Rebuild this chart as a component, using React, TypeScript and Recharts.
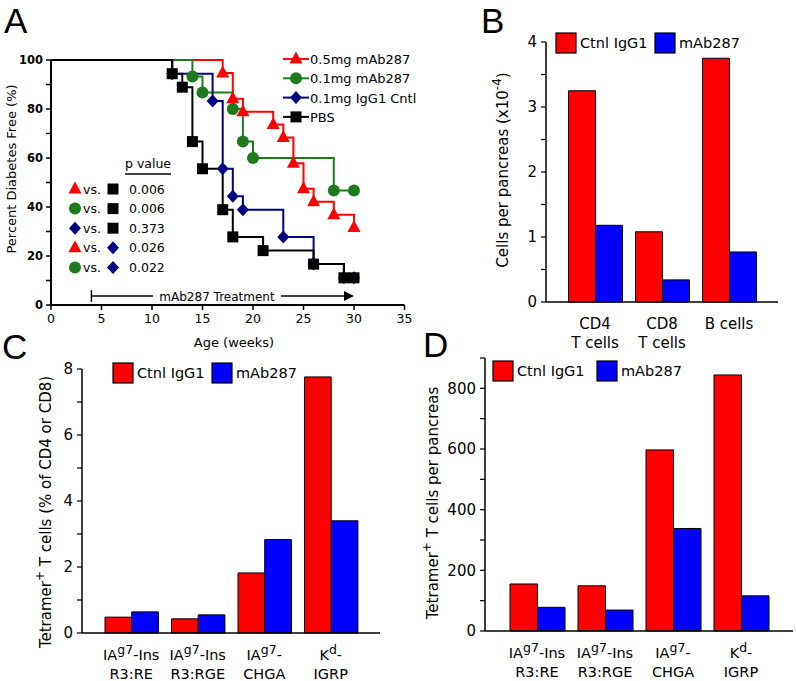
import React from 'react';
import { LineChart, Line, BarChart, Bar, XAxis, YAxis } from 'recharts';

const FONT = '"DejaVu Sans", Verdana, sans-serif';

// Panel A: percent diabetes free by age (Kaplan-Meier)
const survNames = ['0.5mg mAb287', '0.1mg mAb287', '0.1mg IgG1 Cntl', 'PBS'];
const survColors = ['#ff0000', '#1f7a1f', '#000080', '#000000'];
const survShapes = ['triangle', 'circle', 'diamond', 'square'];

const weeksHigh = [0, 17, 18, 19, 22, 23, 24, 25, 26, 28, 30];
const freeHigh = [100, 94.7, 84.2, 78.9, 73.7, 68.4, 57.9, 47.4, 42.1, 36.8, 31.6];
const weeksLow = [0, 14, 15, 18, 19, 20, 28, 30];
const freeLow = [100, 93.3, 86.7, 80, 66.7, 60, 46.7, 46.7];
const weeksIgg = [0, 12, 16, 17, 18, 19, 23, 26, 29, 30];
const freeIgg = [100, 94.4, 83.3, 55.6, 44.4, 38.9, 27.8, 16.7, 11.1, 11.1];
const weeksPbs = [0, 12, 13, 14, 15, 17, 18, 21, 26, 29, 30];
const freePbs = [100, 94.4, 88.9, 66.7, 55.6, 38.9, 27.8, 22.2, 16.7, 11.1, 11.1];

const ageTicks = [0, 5, 10, 15, 20, 25, 30, 35];
const freeTicks = [0, 10, 20, 30, 40, 50, 60, 70, 80, 90, 100];

// p value table (series index vs series index)
const pLeft = [0, 1, 2, 0, 1];
const pRight = [3, 3, 3, 2, 2];
const pValues = ['0.006', '0.006', '0.373', '0.026', '0.022'];

const treatStart = 4;
const treatEnd = 30;

// Panel B: cells per pancreas (x10^-4)
const cellTypes = ['CD4', 'CD8', 'B cells'];
const cellTypesLine2 = ['T cells', 'T cells', ''];
const cellsCtrl = [3.25, 1.08, 3.75];
const cellsMab = [1.18, 0.34, 0.77];
const cellTicks = [0, 0.5, 1, 1.5, 2, 2.5, 3, 3.5, 4];

// Panels C and D: tetramer+ T cells
const tetramers = ['IAg7-Ins R3:RE', 'IAg7-Ins R3:RGE', 'IAg7- CHGA', 'Kd- IGRP'];
const tetBase = ['IA', 'IA', 'IA', 'K'];
const tetSup = ['g7', 'g7', 'g7', 'd'];
const tetTail = ['-Ins', '-Ins', '-', '-'];
const tetLine2 = ['R3:RE', 'R3:RGE', 'CHGA', 'IGRP'];
const pctCtrl = [0.48, 0.43, 1.82, 7.76];
const pctMab = [0.64, 0.55, 2.83, 3.4];
const pctTicks = [0, 1, 2, 3, 4, 5, 6, 7, 8];
const countCtrl = [155, 149, 597, 844];
const countMab = [78, 69, 338, 116];
const countTicks = [0, 100, 200, 300, 400, 500, 600, 700, 800, 900];

const barNames = ['Ctnl IgG1', 'mAb287'];
const barColors = ['#ff0000', '#0000ff'];

const survSeries = [
  [weeksHigh, freeHigh],
  [weeksLow, freeLow],
  [weeksIgg, freeIgg],
  [weeksPbs, freePbs],
].map(([w, f], i) => ({
  name: survNames[i],
  color: survColors[i],
  shape: survShapes[i],
  data: w.map((week, j) => ({ week, free: f[j] })),
}));

const cellData = cellTypes.map((name, i) => ({ name, ctrl: cellsCtrl[i], mab: cellsMab[i] }));
const pctData = tetramers.map((name, i) => ({ name, ctrl: pctCtrl[i], mab: pctMab[i] }));
const countData = tetramers.map((name, i) => ({ name, ctrl: countCtrl[i], mab: countMab[i] }));

// panel A plot box, used by the overlay annotations
const A_LEFT = 51;
const A_RIGHT = 404.5;
const weekToX = (w: number) => A_LEFT + (w / 35) * (A_RIGHT - A_LEFT);

function marker(shape: string, cx: number, cy: number, color: string, key?: string) {
  if (shape === 'triangle') {
    return <polygon key={key} points={`${cx},${cy - 7.5} ${cx + 6.5},${cy + 4.5} ${cx - 6.5},${cy + 4.5}`} fill={color} />;
  }
  if (shape === 'circle') {
    return <circle key={key} cx={cx} cy={cy} r={6} fill={color} />;
  }
  if (shape === 'diamond') {
    return <polygon key={key} points={`${cx},${cy - 6.5} ${cx + 6},${cy} ${cx},${cy + 6.5} ${cx - 6},${cy}`} fill={color} />;
  }
  return <rect key={key} x={cx - 5.5} y={cy - 5.5} width={11} height={11} fill={color} />;
}

const axisStroke = { stroke: '#000', strokeWidth: 1.5 };

const makeBarTick = (cats: string[], line1: (i: number) => React.ReactNode, line2: string[], size: number) =>
  (props: any) => {
    const { x, y, payload } = props;
    const i = cats.indexOf(payload.value);
    return (
      <g>
        <text x={x} y={y + 27} textAnchor="middle" fontSize={size} fontFamily={FONT} fill="#000">
          {line1(i)}
        </text>
        <text x={x} y={y + 46} textAnchor="middle" fontSize={size} fontFamily={FONT} fill="#000">
          {line2[i]}
        </text>
      </g>
    );
  };

const cellTick = makeBarTick(cellTypes, (i) => cellTypes[i], cellTypesLine2, 15);
const tetTick = makeBarTick(
  tetramers,
  (i) => (
    <>
      {tetBase[i]}
      <tspan dy={-6} fontSize={12.5}>{tetSup[i]}</tspan>
      <tspan dy={6}>{tetTail[i]}</tspan>
    </>
  ),
  tetLine2,
  14.5
);

interface BarPanelProps {
  data: any[];
  left: number;
  top: number;
  width: number;
  height: number;
  margin: { top: number; right: number; bottom: number; left: number };
  domain: [number, number];
  ticks: number[];
  labelEvery: number;
  pad: number;
  barSize: number;
  tick: any;
}

const BarPanel = (p: BarPanelProps) => (
  <div style={{ position: 'absolute', left: p.left, top: p.top }}>
    <BarChart width={p.width} height={p.height} data={p.data} margin={p.margin} barGap={0} barSize={p.barSize}>
      <XAxis
        dataKey="name"
        height={40}
        axisLine={axisStroke}
        tickLine={false}
        tickSize={0}
        tickMargin={0}
        padding={{ left: p.pad, right: p.pad }}
        interval={0}
        tick={p.tick}
      />
      <YAxis
        type="number"
        width={40}
        domain={p.domain}
        ticks={p.ticks}
        interval={0}
        axisLine={axisStroke}
        tickLine={{ stroke: '#000', strokeWidth: 1.2 }}
        tickSize={5}
        tickMargin={4}
        tickFormatter={(v: number) => (Math.abs(v / p.labelEvery - Math.round(v / p.labelEvery)) < 1e-6 ? String(v) : '')}
        tick={{ fontSize: 15, fill: '#000', fontFamily: FONT }}
      />
      <Bar dataKey="ctrl" fill={barColors[0]} stroke="#000" strokeWidth={1} isAnimationActive={false} />
      <Bar dataKey="mab" fill={barColors[1]} stroke="#000" strokeWidth={1} isAnimationActive={false} />
    </BarChart>
  </div>
);

const BarLegend = ({ x, y, x2 }: { x: number; y: number; x2: number }) => (
  <g>
    {barNames.map((n, i) => {
      const sx = i === 0 ? x : x2;
      return (
        <g key={n}>
          <rect x={sx} y={y} width={20} height={20} fill={barColors[i]} stroke="#000" strokeWidth={1.2} />
          <text x={sx + 24} y={y + 15} fontSize={14.5} fontFamily={FONT} fill="#000">{n}</text>
        </g>
      );
    })}
  </g>
);

const RotLabel = ({ cx, cy, children, size = 15 }: { cx: number; cy: number; children: React.ReactNode; size?: number }) => (
  <text
    x={cx}
    y={cy}
    transform={`rotate(-90 ${cx} ${cy})`}
    textAnchor="middle"
    dominantBaseline="middle"
    fontSize={size}
    fontFamily={FONT}
    fill="#000"
  >
    {children}
  </text>
);

export default function App() {
  const letter = { fontSize: 35, fontFamily: '"Liberation Sans", Arial, sans-serif', fill: '#000' };
  return (
    <div style={{ position: 'absolute', left: 0, top: 0, width: 796, height: 681, background: '#fff', overflow: 'hidden' }}>
      {/* Panel A */}
      <div style={{ position: 'absolute', left: 0, top: 0 }}>
        <LineChart width={420} height={340} margin={{ top: 60, right: 420 - A_RIGHT, bottom: 10, left: A_LEFT - 40 }}>
          <XAxis
            type="number"
            dataKey="week"
            domain={[0, 35]}
            ticks={ageTicks}
            interval={0}
            height={25}
            axisLine={{ stroke: '#000', strokeWidth: 2 }}
            tickLine={{ stroke: '#000', strokeWidth: 1.5 }}
            tickSize={5}
            tickMargin={4}
            tick={{ fontSize: 12.5, fill: '#000', fontFamily: FONT }}
          />
          <YAxis
            type="number"
            width={40}
            domain={[0, 100]}
            ticks={freeTicks}
            interval={0}
            axisLine={{ stroke: '#000', strokeWidth: 2 }}
            tickLine={{ stroke: '#000', strokeWidth: 1.5 }}
            tickSize={5}
            tickMargin={3}
            tickFormatter={(v: number) => (v % 20 === 0 ? String(v) : '')}
            tick={{ fontSize: 11.5, fill: '#000', fontFamily: FONT, fontWeight: 'bold' }}
          />
          {survSeries.map((s) => (
            <Line
              key={s.name}
              data={s.data}
              dataKey="free"
              name={s.name}
              type="stepAfter"
              stroke={s.color}
              strokeWidth={2}
              isAnimationActive={false}
              dot={(d: any) =>
                d.payload.week === 0 ? <g key={`d-${d.index}`} /> : marker(s.shape, d.cx, d.cy, s.color, `d-${d.index}`)
              }
              activeDot={false}
            />
          ))}
        </LineChart>
      </div>

      {/* Panel B */}
      <BarPanel
        data={cellData}
        left={440}
        top={0}
        width={356}
        height={360}
        margin={{ top: 42, right: 18, bottom: 18, left: 66 }}
        domain={[0, 4]}
        ticks={cellTicks}
        labelEvery={1}
        pad={15.5}
        barSize={27}
        tick={cellTick}
      />

      {/* Panel C */}
      <BarPanel
        data={pctData}
        left={0}
        top={340}
        width={400}
        height={341}
        margin={{ top: 29, right: 20, bottom: 8, left: 42 }}
        domain={[0, 8]}
        ticks={pctTicks}
        labelEvery={2}
        pad={16}
        barSize={26.7}
        tick={tetTick}
      />

      {/* Panel D */}
      <BarPanel
        data={countData}
        left={400}
        top={340}
        width={396}
        height={341}
        margin={{ top: 18, right: 3, bottom: 10, left: 45 }}
        domain={[0, 900]}
        ticks={countTicks}
        labelEvery={200}
        pad={18}
        barSize={27.5}
        tick={tetTick}
      />

      {/* Annotations */}
      <svg width={796} height={681} style={{ position: 'absolute', left: 0, top: 0, pointerEvents: 'none' }}>
        <text x={4} y={33} {...letter}>A</text>
        <text x={481} y={33} {...letter}>B</text>
        <text x={2} y={359} {...letter}>C</text>
        <text x={423} y={357} {...letter}>D</text>

        {/* A axis titles */}
        <RotLabel cx={12} cy={169} size={13}>Percent Diabetes Free (%)</RotLabel>
        <text x={234} y={347} textAnchor="middle" fontSize={13} fontFamily={FONT} fill="#000">Age (weeks)</text>

        {/* A legend */}
        {survSeries.map((s, i) => {
          const y = 59 + i * 19.3;
          return (
            <g key={s.name}>
              <line x1={283} x2={309} y1={y} y2={y} stroke={s.color} strokeWidth={2} />
              {marker(s.shape, 296, y, s.color)}
              <text x={310} y={y + 5} fontSize={13} fontFamily={FONT} fill="#000">{s.name}</text>
            </g>
          );
        })}

        {/* p value table */}
        <text x={125} y={168} fontSize={12.5} fontFamily={FONT} fill="#000">p value</text>
        <line x1={125} x2={171} y1={174} y2={174} stroke="#000" strokeWidth={1.5} />
        {pValues.map((v, i) => {
          const y = 189 + i * 19.6;
          return (
            <g key={i}>
              {marker(survShapes[pLeft[i]], 75, y, survColors[pLeft[i]])}
              <text x={83} y={y + 4.5} fontSize={12.5} fontFamily={FONT} fill="#000">vs.</text>
              {marker(survShapes[pRight[i]], 113, y, survColors[pRight[i]])}
              <text x={129} y={y + 4.5} fontSize={12.5} fontFamily={FONT} fill="#000">{v}</text>
            </g>
          );
        })}

        {/* treatment arrow */}
        <line x1={weekToX(treatStart)} x2={weekToX(treatStart)} y1={290} y2={302} stroke="#000" strokeWidth={1.5} />
        <line x1={weekToX(treatStart)} x2={153} y1={296} y2={296} stroke="#000" strokeWidth={1.5} />
        <text x={217} y={300.5} textAnchor="middle" fontSize={12} fontFamily={FONT} fill="#000">mAb287 Treatment</text>
        <line x1={281} x2={weekToX(treatEnd) - 8} y1={296} y2={296} stroke="#000" strokeWidth={1.5} />
        <polygon
          points={`${weekToX(treatEnd)},296 ${weekToX(treatEnd) - 10},291 ${weekToX(treatEnd) - 10},301`}
          fill="#000"
        />

        {/* B */}
        <BarLegend x={556} y={33} x2={655} />
        <RotLabel cx={503} cy={170}>
          Cells per pancreas (x10<tspan dy={-6} fontSize={12}>-4</tspan><tspan dy={6}>)</tspan>
        </RotLabel>

        {/* C */}
        <BarLegend x={113} y={363} x2={212} />
        <RotLabel cx={46} cy={512}>
          Tetramer<tspan dy={-6} fontSize={12}>+</tspan><tspan dy={6}> T cells (% of CD4 or CD8)</tspan>
        </RotLabel>

        {/* D */}
        <BarLegend x={493} y={361} x2={597} />
        <RotLabel cx={433} cy={503}>
          Tetramer<tspan dy={-6} fontSize={12}>+</tspan><tspan dy={6}> T cells per pancreas</tspan>
        </RotLabel>
      </svg>
    </div>
  );
}
